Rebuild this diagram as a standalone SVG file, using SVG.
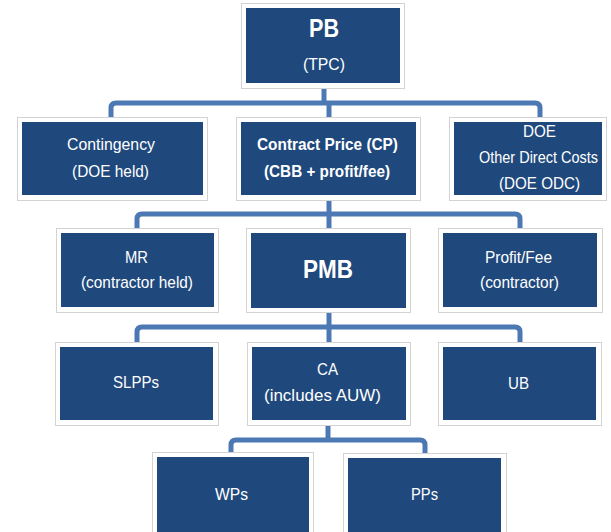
<svg xmlns="http://www.w3.org/2000/svg" width="611" height="532" viewBox="0 0 611 532">
<style>
.frame{fill:#ffffff;stroke:#d3d3d3;stroke-width:1}
.box{fill:#1f497d}
.t{font-family:"Liberation Sans",Arial,sans-serif;font-size:17px;fill:#ffffff;text-anchor:start}
.b{font-weight:bold}
.big{font-family:"Liberation Sans",Arial,sans-serif;font-size:26px;font-weight:bold;fill:#ffffff}
.conn{fill:none;stroke:#4c79b4;stroke-width:5;stroke-linejoin:round}
</style>
<g id="connectors">
<path class="conn" d="M324 88 V103"/>
<path class="conn" d="M111 117 V108 Q111 103 116 103 H535 Q540 103 540 108 V117"/>
<path class="conn" d="M329 103 V117"/>
<path class="conn" d="M329 200 V214"/>
<path class="conn" d="M137 228 V219 Q137 214 142 214 H515 Q520 214 520 219 V228"/>
<path class="conn" d="M329 214 V228"/>
<path class="conn" d="M329 313 V327"/>
<path class="conn" d="M137 342 V332 Q137 327 142 327 H515 Q520 327 520 332 V342"/>
<path class="conn" d="M329 327 V342"/>
<path class="conn" d="M328 425 V440"/>
<path class="conn" d="M231 453 V445 Q231 440 236 440 H420 Q425 440 425 445 V453"/>
</g>
<g id="pb">
<rect class="frame" x="241.5" y="3.5" width="163" height="85"/>
<rect class="box" x="246" y="8" width="154" height="75"/>
<text class="big" x="309" y="37" textLength="30" lengthAdjust="spacingAndGlyphs">PB</text>
<text class="t" x="303" y="70" textLength="42" lengthAdjust="spacingAndGlyphs">(TPC)</text>
</g>
<g id="contingency">
<rect class="frame" x="17.5" y="117.5" width="190" height="83"/>
<rect class="box" x="22" y="122" width="181" height="73"/>
<text class="t" x="67" y="150" textLength="88" lengthAdjust="spacingAndGlyphs">Contingency</text>
<text class="t" x="72" y="177" textLength="77" lengthAdjust="spacingAndGlyphs">(DOE held)</text>
</g>
<g id="cp">
<rect class="frame" x="236.5" y="117.5" width="184" height="83"/>
<rect class="box" x="241" y="122" width="175" height="73"/>
<text class="t b" x="257" y="150" textLength="141" lengthAdjust="spacingAndGlyphs">Contract Price (CP)</text>
<text class="t b" x="264" y="177" textLength="126" lengthAdjust="spacingAndGlyphs">(CBB + profit/fee)</text>
</g>
<g id="doe">
<rect class="frame" x="449.5" y="117.5" width="157" height="83"/>
<rect class="box" x="454" y="122" width="148" height="73"/>
<text class="t" x="523" y="137" textLength="33" lengthAdjust="spacingAndGlyphs">DOE</text>
<text class="t" x="479" y="163" textLength="119" lengthAdjust="spacingAndGlyphs" style="font-size:14px" transform="matrix(1 0 0 1.2 0 -32.6)">Other Direct Costs</text>
<text class="t" x="499" y="189" textLength="81" lengthAdjust="spacingAndGlyphs">(DOE ODC)</text>
</g>
<g id="mr">
<rect class="frame" x="56.5" y="228.5" width="162" height="84"/>
<rect class="box" x="61" y="233" width="153" height="74"/>
<text class="t" x="125" y="263" textLength="23" lengthAdjust="spacingAndGlyphs">MR</text>
<text class="t" x="81" y="288" textLength="112" lengthAdjust="spacingAndGlyphs">(contractor held)</text>
</g>
<g id="pmb">
<rect class="frame" x="246.5" y="228.5" width="164" height="84"/>
<rect class="box" x="251" y="233" width="155" height="75"/>
<text class="big" x="303" y="278" textLength="50" lengthAdjust="spacingAndGlyphs">PMB</text>
</g>
<g id="profitfee">
<rect class="frame" x="438.5" y="228.5" width="164" height="84"/>
<rect class="box" x="443" y="233" width="154" height="74"/>
<text class="t" x="485" y="263" textLength="67" lengthAdjust="spacingAndGlyphs">Profit/Fee</text>
<text class="t" x="480" y="288" textLength="79" lengthAdjust="spacingAndGlyphs">(contractor)</text>
</g>
<g id="slpps">
<rect class="frame" x="55.5" y="342.5" width="163" height="83"/>
<rect class="box" x="60" y="347" width="153" height="73"/>
<text class="t" x="113" y="388" textLength="46" lengthAdjust="spacingAndGlyphs">SLPPs</text>
</g>
<g id="ca">
<rect class="frame" x="247.5" y="342.5" width="163" height="83"/>
<rect class="box" x="252" y="347" width="154" height="73"/>
<text class="t" x="317" y="375" textLength="21" lengthAdjust="spacingAndGlyphs">CA</text>
<text class="t" x="264" y="401" textLength="117" lengthAdjust="spacingAndGlyphs">(includes AUW)</text>
</g>
<g id="ub">
<rect class="frame" x="438.5" y="342.5" width="163" height="83"/>
<rect class="box" x="443" y="347" width="153" height="73"/>
<text class="t" x="508" y="389" textLength="21" lengthAdjust="spacingAndGlyphs">UB</text>
</g>
<g id="wps">
<rect class="frame" x="152.5" y="452.5" width="161" height="90"/>
<rect class="box" x="157" y="457" width="152" height="85"/>
<text class="t" x="215" y="500" textLength="33" lengthAdjust="spacingAndGlyphs">WPs</text>
</g>
<g id="pps">
<rect class="frame" x="343.5" y="453.5" width="163" height="90"/>
<rect class="box" x="348" y="458" width="153" height="85"/>
<text class="t" x="411" y="500" textLength="27" lengthAdjust="spacingAndGlyphs">PPs</text>
</g>
</svg>
